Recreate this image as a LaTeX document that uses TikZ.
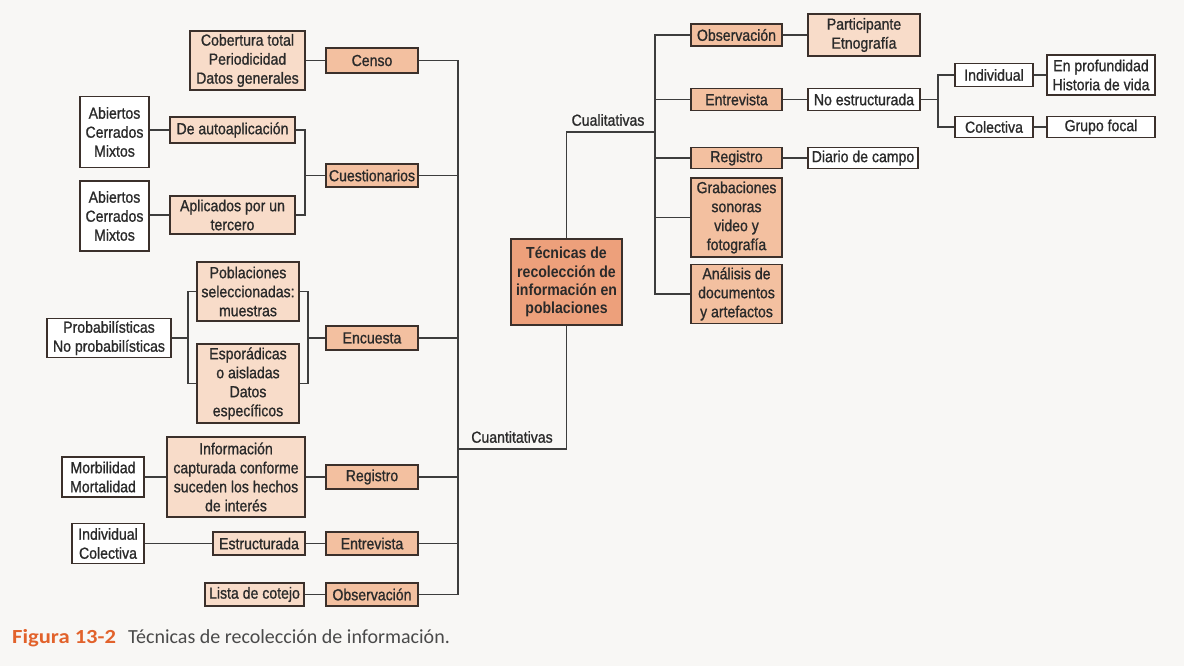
\documentclass[tikz,border=0pt]{standalone}
\usepackage{fontspec}
\newfontfamily\boxfont{Liberation Sans}[FakeStretch=0.88, FakeBold=1.0]
\newfontfamily\corefont{Liberation Sans Bold}[FakeStretch=0.88]
\newfontfamily\capfont{Carlito}
\newfontfamily\capboldfont{Carlito Bold}[FakeStretch=1.13]
\definecolor{paper}{HTML}{F8F7F5}
\definecolor{boxline}{HTML}{3B302B}
\definecolor{wirecol}{HTML}{3D3D3D}
\definecolor{ink}{HTML}{2A2A2A}
\definecolor{peachlight}{HTML}{F8DCC9}
\definecolor{peachmid}{HTML}{F3C0A0}
\definecolor{peachcore}{HTML}{EDA07B}
\definecolor{figorange}{HTML}{E2622B}
\definecolor{capgray}{HTML}{4A4A4A}
\begin{document}
\begin{tikzpicture}[x=1pt,y=-1pt,
  box/.style={draw=boxline, line width=1.6pt, inner sep=0pt, align=center, text=ink,
    font=\boxfont\fontsize{16}{19}\selectfont},
  sz/.style 2 args={minimum width=#1pt, minimum height=#2pt},
  plain/.style={box, fill=white},
  light/.style={box, fill=peachlight},
  mid/.style={box, fill=peachmid},
  core/.style={box, fill=peachcore, font=\corefont\fontsize{16}{18.3}\selectfont},
  branchlabel/.style={inner sep=0pt, text=ink, font=\boxfont\fontsize{16}{19}\selectfont},
  wire/.style={draw=wirecol, line width=1.5pt}]

% page
\fill[paper] (0,0) rectangle (1184,666);
\useasboundingbox (0,0) rectangle (1184,666);

% ---------- central node ----------
\node[core, sz={111}{86}] (core) at (566.5,282) {Técnicas de\\recolección de\\información en\\poblaciones};

% ---------- quantitative branch ----------
\node[light, sz={115}{59}] (cob) at (247.5,60.5) {Cobertura total\\Periodicidad\\Datos generales};
\node[mid, sz={92}{25}] (censo) at (372,60.5) {Censo};

\node[plain, sz={69}{71}] (ab1) at (114.5,132) {Abiertos\\Cerrados\\Mixtos};
\node[light, sz={125}{26}] (deauto) at (232.5,130) {De autoaplicación};
\node[plain, sz={69}{70}] (ab2) at (114.5,216) {Abiertos\\Cerrados\\Mixtos};
\node[light, sz={125}{38}] (aplic) at (232.5,215) {Aplicados por un\\tercero};
\node[mid, sz={92}{23}] (cuest) at (372,175.5) {Cuestionarios};

\node[plain, sz={124}{39}] (prob) at (109,338) {Probabilísticas\\No probabilísticas};
\node[light, sz={102}{59}] (pobl) at (248,291.5) {Poblaciones\\seleccionadas:\\muestras};
\node[light, sz={102}{79}] (espor) at (248,383.5) {Esporádicas\\o aisladas\\Datos\\específicos};
\node[mid, sz={92}{24}] (encuesta) at (372,338) {Encuesta};

\node[plain, sz={82}{40}] (morb) at (103,477) {Morbilidad\\Mortalidad};
\node[light, sz={138}{80}] (info) at (236,477) {Información\\capturada conforme\\suceden los hechos\\de interés};
\node[mid, sz={92}{24}] (regL) at (372,477) {Registro};

\node[plain, sz={72}{40}] (indcol) at (108,543.5) {Individual\\Colectiva};
\node[light, sz={92}{23}] (estruct) at (259,543.5) {Estructurada};
\node[mid, sz={92}{23}] (entrL) at (372,543.5) {Entrevista};

\node[light, sz={99}{23}] (lista) at (254.5,594.5) {Lista de cotejo};
\node[mid, sz={92}{23}] (obsL) at (372,594.5) {Observación};

% ---------- qualitative branch ----------
\node[mid, sz={91}{22}] (obsR) at (736.5,35) {Observación};
\node[light, sz={112}{42}] (part) at (864,35) {Participante\\Etnografía};
\node[mid, sz={91}{22}] (entrR) at (736.5,99.5) {Entrevista};
\node[plain, sz={112}{22}] (noest) at (864,99.5) {No estructurada};
\node[plain, sz={78}{23}] (indiv) at (994,75) {Individual};
\node[plain, sz={108}{40}] (enprof) at (1101,75) {En profundidad\\Historia de vida};
\node[plain, sz={78}{21}] (colect) at (994,127) {Colectiva};
\node[plain, sz={108}{21}] (grupo) at (1101,127) {Grupo focal};
\node[mid, sz={91}{21}] (regR) at (736.5,158) {Registro};
\node[plain, sz={110}{21}] (diario) at (863,158) {Diario de campo};
\node[mid, sz={91}{79}] (grab) at (736.5,217.5) {Grabaciones\\sonoras\\video y\\fotografía};
\node[mid, sz={91}{59}] (anal) at (736.5,294) {Análisis de\\documentos\\y artefactos};

% ---------- junction columns ----------
\coordinate (ltrunk) at (458,0);
\coordinate (qbend) at (458,449);
\coordinate (rtrunk) at (655,0);
\coordinate (lbend) at (655,132);
\coordinate (qbrk) at (305,0);
\coordinate (lbrk) at (188,0);
\coordinate (rbrk) at (308,0);
\coordinate (nbrk) at (938,0);

% ---------- connectors, quantitative side ----------
\draw[wire] (cob) -- (censo);
\draw[wire] (deauto.west) -- (deauto.west -| ab1.east);
\draw[wire] (aplic.west) -- (aplic.west -| ab2.east);
\draw[wire] (deauto.east) -| (qbrk |- aplic.east) -- (aplic.east);
\draw[wire] (cuest.west) -- (cuest.west -| qbrk);

\draw[wire] (prob.east) -- (prob.east -| lbrk);
\draw[wire] (pobl.west) -| (lbrk |- espor.west) -- (espor.west);
\draw[wire] (pobl.east) -| (rbrk |- espor.east) -- (espor.east);
\draw[wire] (encuesta.west) -- (encuesta.west -| rbrk);

\draw[wire] (morb) -- (info);
\draw[wire] (info) -- (regL);
\draw[wire] (estruct.west) -- (estruct.west -| indcol.east);
\draw[wire] (estruct) -- (entrL);
\draw[wire] (lista) -- (obsL);

\draw[wire] (censo.east) -| (ltrunk |- obsL.east) -- (obsL.east);
\draw[wire] (cuest.east) -- (cuest.east -| ltrunk);
\draw[wire] (encuesta.east) -- (encuesta.east -| ltrunk);
\draw[wire] (regL.east) -- (regL.east -| ltrunk);
\draw[wire] (entrL.east) -- (entrL.east -| ltrunk);

\draw[wire] (core.south) |- (qbend);
\node[branchlabel] (cuanti) at (512,437) {Cuantitativas};

% ---------- connectors, qualitative side ----------
\draw[wire] (core.north) |- (lbend);
\node[branchlabel] (cuali) at (608,120) {Cualitativas};

\draw[wire] (obsR.west) -| (rtrunk |- anal.west) -- (anal.west);
\draw[wire] (entrR.west) -- (entrR.west -| rtrunk);
\draw[wire] (regR.west) -- (regR.west -| rtrunk);
\draw[wire] (grab.west) -- (grab.west -| rtrunk);

\draw[wire] (obsR) -- (part);
\draw[wire] (entrR) -- (noest);
\draw[wire] (regR) -- (diario);
\draw[wire] (noest.east) -- (noest.east -| nbrk);
\draw[wire] (indiv.west) -| (nbrk |- colect.west) -- (colect.west);
\draw[wire] (indiv) -- (enprof);
\draw[wire] (colect) -- (grupo);

% ---------- caption ----------
\node[anchor=base west, inner sep=0pt, text=figorange,
  font=\capboldfont\fontsize{20}{24}\selectfont] (capnum) at (12,643) {Figura 13-2};
\node[anchor=base west, inner sep=0pt, text=capgray,
  font=\capfont\fontsize{20}{24}\selectfont] (captext) at (128,643) {Técnicas de recolección de información.};
\end{tikzpicture}
\end{document}
